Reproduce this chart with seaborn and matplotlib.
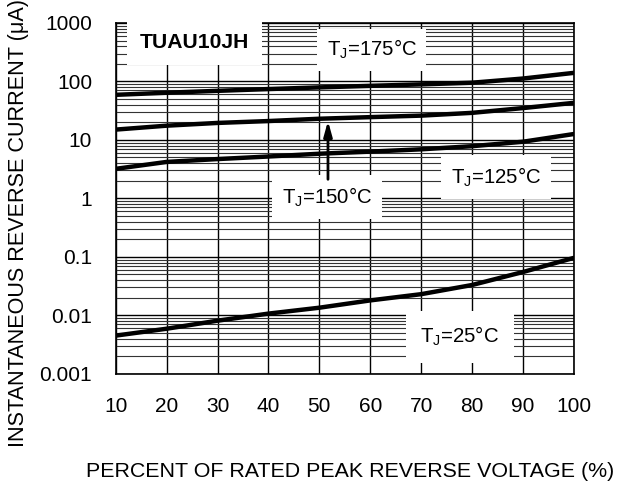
import numpy as np
import pandas as pd
import seaborn as sns
import matplotlib.pyplot as plt
from matplotlib.ticker import LogLocator, FixedLocator, NullFormatter

# percent of rated peak reverse voltage
pct = [10, 20, 30, 40, 50, 60, 70, 80, 90, 100]

# reverse current (uA)
ir_175 = [59, 64, 69, 74, 79, 84, 89, 95, 112, 140]
ir_150 = [15, 17.5, 19.5, 21, 23, 24.5, 26, 29, 35, 43]
ir_125 = [3.2, 4.2, 4.7, 5.2, 5.8, 6.3, 6.9, 7.8, 9.3, 12.6]
ir_25 = [0.0045, 0.0059, 0.0081, 0.0107, 0.0135, 0.018, 0.023, 0.033, 0.055, 0.096]

curves = {"175": ir_175, "150": ir_150, "125": ir_125, "25": ir_25}
df = pd.concat([pd.DataFrame({"pct": pct, "ir": v, "tj": k}) for k, v in curves.items()])

sns.set_style("white")
plt.rcParams['font.family'] = ['Liberation Sans', 'DejaVu Sans']
plt.rcParams['mathtext.fontset'] = 'custom'
plt.rcParams['mathtext.rm'] = 'Liberation Sans'
plt.rcParams['text.color'] = 'black'
plt.rcParams['axes.labelcolor'] = 'black'
plt.rcParams['xtick.color'] = 'black'
plt.rcParams['ytick.color'] = 'black'

fig = plt.figure(figsize=(6.19, 4.88), dpi=100)
ax = fig.add_axes([0.187, 0.234, 0.740, 0.719])

sns.lineplot(data=df, x="pct", y="ir", units="tj", estimator=None,
             color="black", lw=3.2, ax=ax, legend=False)

ax.set_yscale("log")
ax.set_xlim(10, 100)
ax.set_ylim(0.001, 1000)

ax.xaxis.set_major_locator(FixedLocator(pct))
ax.set_yticks([0.001, 0.01, 0.1, 1, 10, 100, 1000])
ax.set_yticklabels(["0.001", "0.01", "0.1", "1", "10", "100", "1000"])
ax.yaxis.set_minor_locator(LogLocator(base=10, subs=np.arange(2, 10), numticks=20))
ax.yaxis.set_minor_formatter(NullFormatter())
ax.tick_params(axis="x", which="both", length=0, labelsize=15, pad=16.5)
ax.tick_params(axis="y", which="both", length=0, labelsize=15, pad=17)

ax.grid(True, which="major", axis="both", color="black", lw=1.0)
ax.grid(True, which="minor", axis="y", color="#333333", lw=0.8)
for s in ax.spines.values():
    s.set_color("black")
    s.set_linewidth(1.2)

ax.set_xlabel("PERCENT OF RATED PEAK REVERSE VOLTAGE (%)", fontsize=15.4)
ax.set_ylabel("INSTANTANEOUS REVERSE CURRENT (\u03bcA)", fontsize=15.6)
ax.xaxis.set_label_coords(0.511, -0.25)
ax.yaxis.set_label_coords(-0.19, 0.43)

def box(p):
    return dict(boxstyle="square,pad=%s" % p, fc="white", ec="none")

ax.text(25.5, 455, "TUAU10JH", fontsize=15.2, fontweight="bold",
        ha="center", va="center", bbox=box(0.6))
ax.text(60.3, 347, r"T$_\mathregular{J}$=175°C", fontsize=14.7, ha="center", va="center", bbox=box(0.45))
ax.text(51.5, 1.06, r"T$_\mathregular{J}$=150°C", fontsize=14.7, ha="center", va="center", bbox=box(0.5))
ax.text(84.7, 2.33, r"T$_\mathregular{J}$=125°C", fontsize=14.7, ha="center", va="center", bbox=box(0.5))
ax.text(77.6, 0.0043, r"T$_\mathregular{J}$=25°C", fontsize=14.7, ha="center", va="center", bbox=box(0.7))

ax.annotate("", xy=(51.7, 23.5), xytext=(51.7, 1.9),
            arrowprops=dict(arrowstyle="-|>,head_length=0.9,head_width=0.25", color="black", lw=2))

fig.savefig("out.png", dpi=100)
